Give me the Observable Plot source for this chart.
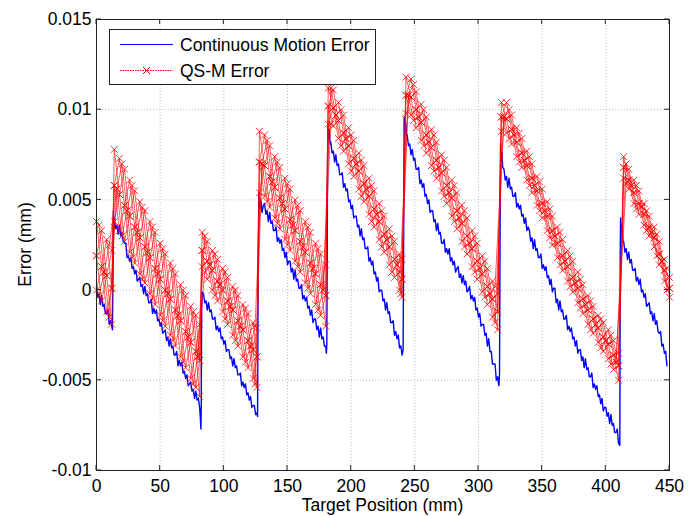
<!DOCTYPE html>
<html>
<head>
<meta charset="utf-8">
<script src="https://cdn.jsdelivr.net/npm/d3@7"></script>
<script src="https://cdn.jsdelivr.net/npm/@observablehq/plot@0.6"></script>
<style>
  html, body { margin: 0; padding: 0; background: #fff; }
  #chart svg { display: block; }
</style>
</head>
<body>
<div id="chart"></div>
<script>
// ---------- data ----------
const xTicks = [0, 50, 100, 150, 200, 250, 300, 350, 400, 450];
const yTicks = [-0.01, -0.005, 0, 0.005, 0.01, 0.015];
const seriesNames = ["Continuous Motion Error", "QS-M Error"];
const axisTitles = ["Target Position (mm)", "Error (mm)"];

// Continuous motion error: [target position (mm), error (mm)]
const blueSeries = [
  [0,0.0002],[1,-0.0004],[2,-0.0002],[3,-0.0008],[4,-0.0003],[5,-0.0009],[6,-0.0008],[7,-0.0013],[8,-0.0013],[9,-0.0011],[10,-0.0019],[11,-0.0017],[12,-0.0020],[12.5,-0.0022],
  [13,0.0010],[13.3,0.0044],[13.7,0.0035],[14,0.0040],[15,0.0034],[16,0.0036],[17,0.0031],[18,0.0036],[19,0.0030],[20,0.0032],[21,0.0027],[22,0.0026],[23,0.0026],[24,0.0018],[25,0.0019],[26,0.0016],[27,0.0018],[28,0.0012],[29,0.0013],[30,0.0009],[31,0.0011],[32,0.0005],[33,0.0006],[34,0.0007],[35,0.0002],[36,0.0003],[37,-0.0002],[38,0.0002],[39,-0.0003],[40,-0.0002],[41,-0.0007],[42,-0.0007],[43,-0.0005],[44,-0.0013],[45,-0.0010],[46,-0.0013],[47,-0.0011],[48,-0.0017],[49,-0.0016],[50,-0.0020],[51,-0.0018],[52,-0.0024],[53,-0.0023],[54,-0.0022],[55,-0.0028],[56,-0.0026],[57,-0.0031],[58,-0.0027],[59,-0.0032],[60,-0.0031],[61,-0.0036],[62,-0.0036],[63,-0.0034],[64,-0.0042],[65,-0.0039],[66,-0.0042],[67,-0.0040],[68,-0.0046],[69,-0.0045],[70,-0.0049],[71,-0.0047],[72,-0.0053],[73,-0.0052],[74,-0.0051],[75,-0.0056],[76,-0.0055],[77,-0.0060],[78,-0.0056],[79,-0.0061],[80,-0.0060],[81,-0.0065],[81.5,-0.0070],[82,-0.0077],[82.3,-0.0062],
  [82.6,-0.0010],[83,-0.0001],[84,-0.0002],[85,-0.0007],[86,-0.0006],[87,-0.0011],[88,-0.0007],[89,-0.0012],[90,-0.0011],[91,-0.0016],[92,-0.0016],[93,-0.0015],[94,-0.0022],[95,-0.0020],[96,-0.0023],[97,-0.0021],[98,-0.0027],[99,-0.0026],[100,-0.0030],[101,-0.0028],[102,-0.0034],[103,-0.0033],[104,-0.0033],[105,-0.0038],[106,-0.0037],[107,-0.0042],[108,-0.0038],[109,-0.0043],[110,-0.0042],[111,-0.0047],[112,-0.0047],[113,-0.0046],[114,-0.0053],[115,-0.0051],[116,-0.0054],[117,-0.0052],[118,-0.0058],[119,-0.0057],[120,-0.0061],[121,-0.0059],[122,-0.0065],[123,-0.0064],[124,-0.0064],[125,-0.0069],[126,-0.0068],[126.5,-0.0070],
  [127,0.0020],[127.5,0.0054],[128,0.0045],[129,0.0050],[130,0.0043],[131,0.0047],[132,0.0048],[133,0.0042],[134,0.0044],[135,0.0038],[136,0.0043],[137,0.0037],[138,0.0038],[139,0.0033],[140,0.0033],[141,0.0035],[142,0.0027],[143,0.0029],[144,0.0026],[145,0.0028],[146,0.0022],[147,0.0023],[148,0.0018],[149,0.0021],[150,0.0014],[151,0.0016],[152,0.0016],[153,0.0010],[154,0.0012],[155,0.0006],[156,0.0011],[157,0.0005],[158,0.0006],[159,0.0001],[160,0.0001],[161,0.0003],[162,-0.0005],[163,-0.0003],[164,-0.0006],[165,-0.0004],[166,-0.0010],[167,-0.0009],[168,-0.0014],[169,-0.0011],[170,-0.0018],[171,-0.0016],[172,-0.0016],[173,-0.0022],[174,-0.0020],[175,-0.0026],[176,-0.0021],[177,-0.0027],[178,-0.0026],[179,-0.0031],[180,-0.0031],[180.5,-0.0035],[180.9,-0.0030],
  [181.3,0.0040],[181.6,0.0091],[182.2,0.0084],[182.8,0.0089],[183.4,0.0081],[184,0.0082],[185,0.0076],[186,0.0077],[187,0.0071],[188,0.0075],[189,0.0069],[190,0.0070],[191,0.0064],[192,0.0064],[193,0.0065],[194,0.0057],[195,0.0059],[196,0.0055],[197,0.0056],[198,0.0049],[199,0.0050],[200,0.0045],[201,0.0047],[202,0.0040],[203,0.0041],[204,0.0041],[205,0.0035],[206,0.0036],[207,0.0030],[208,0.0034],[209,0.0028],[210,0.0029],[211,0.0023],[212,0.0023],[213,0.0024],[214,0.0016],[215,0.0018],[216,0.0014],[217,0.0016],[218,0.0009],[219,0.0010],[220,0.0005],[221,0.0007],[222,-0.0001],[223,0.0000],[224,0.0000],[225,-0.0006],[226,-0.0005],[227,-0.0011],[228,-0.0007],[229,-0.0013],[230,-0.0012],[231,-0.0018],[232,-0.0018],[233,-0.0017],[234,-0.0025],[235,-0.0023],[236,-0.0027],[237,-0.0025],[238,-0.0032],[239,-0.0031],[240,-0.0036],[240.8,-0.0033],
  [241.3,0.0040],[241.6,0.0096],[242.2,0.0088],[242.8,0.0093],[243.4,0.0086],[244,0.0086],[245,0.0080],[246,0.0081],[247,0.0075],[248,0.0078],[249,0.0072],[250,0.0073],[251,0.0067],[252,0.0067],[253,0.0068],[254,0.0059],[255,0.0061],[256,0.0057],[257,0.0059],[258,0.0052],[259,0.0053],[260,0.0048],[261,0.0050],[262,0.0043],[263,0.0044],[264,0.0044],[265,0.0038],[266,0.0039],[267,0.0033],[268,0.0037],[269,0.0031],[270,0.0032],[271,0.0026],[272,0.0026],[273,0.0028],[274,0.0021],[275,0.0023],[276,0.0020],[277,0.0023],[278,0.0016],[279,0.0018],[280,0.0014],[281,0.0016],[282,0.0010],[283,0.0012],[284,0.0013],[285,0.0007],[286,0.0009],[287,0.0004],[288,0.0008],[289,0.0003],[290,0.0005],[291,-0.0001],[292,0.0000],[293,0.0002],[294,-0.0005],[295,-0.0003],[296,-0.0006],[297,-0.0004],[298,-0.0011],[299,-0.0010],[300,-0.0015],[301,-0.0013],[302,-0.0020],[303,-0.0019],[304,-0.0019],[305,-0.0025],[306,-0.0024],[307,-0.0031],[308,-0.0027],[309,-0.0034],[310,-0.0034],[311,-0.0041],[312,-0.0041],[313,-0.0041],[314,-0.0050],[315,-0.0048],[316,-0.0053],[316.5,-0.0047],
  [317,0.0040],[317.3,0.0081],[317.8,0.0072],[318.4,0.0076],[319,0.0068],[320,0.0067],[321,0.0061],[322,0.0063],[323,0.0057],[324,0.0062],[325,0.0056],[326,0.0057],[327,0.0052],[328,0.0052],[329,0.0054],[330,0.0046],[331,0.0048],[332,0.0045],[333,0.0047],[334,0.0041],[335,0.0042],[336,0.0037],[337,0.0040],[338,0.0033],[339,0.0035],[340,0.0033],[341,0.0027],[342,0.0029],[343,0.0023],[344,0.0028],[345,0.0022],[346,0.0023],[347,0.0018],[348,0.0018],[349,0.0020],[350,0.0012],[351,0.0014],[352,0.0011],[353,0.0013],[354,0.0007],[355,0.0008],[356,0.0003],[357,0.0006],[358,-0.0001],[359,0.0001],[360,0.0001],[361,-0.0007],[362,-0.0005],[363,-0.0011],[364,-0.0006],[365,-0.0012],[366,-0.0011],[367,-0.0016],[368,-0.0016],[369,-0.0014],[370,-0.0022],[371,-0.0020],[372,-0.0023],[373,-0.0021],[374,-0.0027],[375,-0.0026],[376,-0.0031],[377,-0.0028],[378,-0.0035],[379,-0.0033],[380,-0.0033],[381,-0.0039],[382,-0.0037],[383,-0.0043],[384,-0.0038],[385,-0.0044],[386,-0.0043],[387,-0.0048],[388,-0.0048],[389,-0.0046],[390,-0.0054],[391,-0.0052],[392,-0.0055],[393,-0.0053],[394,-0.0059],[395,-0.0058],[396,-0.0063],[397,-0.0060],[398,-0.0067],[399,-0.0065],[400,-0.0065],[401,-0.0070],[402,-0.0068],[403,-0.0074],[404,-0.0069],[405,-0.0075],[406,-0.0074],[407,-0.0079],[408,-0.0079],[409,-0.0077],[410,-0.0085],[411,-0.0086],
  [411.3,0.0020],[411.6,0.0040],[412.2,0.0030],[412.8,0.0036],[413.4,0.0027],[414,0.0027],[415,0.0021],[416,0.0023],[417,0.0017],[418,0.0021],[419,0.0015],[420,0.0017],[421,0.0011],[422,0.0011],[423,0.0012],[424,0.0005],[425,0.0007],[426,0.0003],[427,0.0006],[428,-0.0001],[429,0.0000],[430,-0.0004],[431,-0.0002],[432,-0.0009],[433,-0.0008],[434,-0.0007],[435,-0.0013],[436,-0.0012],[437,-0.0017],[438,-0.0013],[439,-0.0019],[440,-0.0017],[441,-0.0023],[442,-0.0024],[443,-0.0023],[444,-0.0031],[445,-0.0030],[446,-0.0035],[447,-0.0034],[448,-0.0042]
];

// QS-M error: marker positions (mm) and the error of each measurement run (mm)
const redX = [0,4,8,12,
  14,18,22,26,30,34,38,42,46,50,54,58,62,66,70,74,78,81,
  83,87,91,95,99,103,107,111,115,119,123,126,
  128,132,136,140,144,148,152,156,160,164,168,172,176,180,
  182,186,190,194,198,202,206,210,214,218,222,226,230,234,238,240,
  243,247,251,255,259,263,267,271,275,279,283,287,291,295,299,303,307,311,315,
  318,322,326,330,334,338,342,346,350,354,358,362,366,370,374,378,382,386,390,394,398,402,406,410,
  414,418,422,426,430,434,438,442,446,450];
const redRunA = [0.0038,0.0013,-0.0012,0.0001,
  0.0078,0.0053,0.0027,0.0041,0.0055,0.0029,0.0004,0.0018,0.0032,0.0006,-0.0020,-0.0005,0.0009,-0.0017,-0.0043,-0.0029,-0.0014,-0.0039,
  0.0013,0.0016,0.0022,0.0005,-0.0012,-0.0006,0.0002,-0.0017,-0.0037,-0.0028,-0.0018,-0.0037,
  0.0054,0.0069,0.0080,0.0057,0.0034,0.0045,0.0056,0.0033,0.0010,0.0021,0.0032,0.0009,-0.0014,-0.0003,
  0.0112,0.0101,0.0084,0.0087,0.0090,0.0073,0.0056,0.0059,0.0062,0.0045,0.0028,0.0031,0.0034,0.0017,0.0000,0.0006,
  0.0118,0.0107,0.0090,0.0093,0.0096,0.0079,0.0062,0.0065,0.0068,0.0051,0.0034,0.0037,0.0040,0.0023,0.0006,0.0009,0.0012,-0.0005,-0.0022,
  0.0096,0.0104,0.0089,0.0074,0.0076,0.0077,0.0062,0.0047,0.0048,0.0049,0.0033,0.0018,0.0019,0.0022,0.0007,-0.0007,-0.0005,-0.0003,-0.0016,-0.0029,-0.0026,-0.0022,-0.0036,-0.0050,
  0.0068,0.0067,0.0054,0.0042,0.0042,0.0041,0.0029,0.0014,0.0011,0.0007];
const redRunB = [0.0000,0.0013,0.0028,0.0001,
  0.0038,0.0053,0.0067,0.0041,0.0015,0.0029,0.0044,0.0018,-0.0008,0.0006,0.0020,-0.0005,-0.0031,-0.0017,-0.0003,-0.0029,-0.0054,-0.0039,
  0.0032,0.0016,0.0000,0.0005,0.0012,-0.0006,-0.0025,-0.0017,-0.0008,-0.0028,-0.0049,-0.0037,
  0.0088,0.0069,0.0046,0.0057,0.0068,0.0045,0.0022,0.0033,0.0044,0.0021,-0.0002,0.0009,0.0020,-0.0003,
  0.0092,0.0101,0.0104,0.0087,0.0070,0.0073,0.0076,0.0059,0.0042,0.0045,0.0048,0.0031,0.0014,0.0017,0.0020,0.0006,
  0.0098,0.0107,0.0110,0.0093,0.0076,0.0079,0.0082,0.0065,0.0048,0.0051,0.0054,0.0037,0.0020,0.0023,0.0026,0.0009,-0.0008,-0.0005,-0.0002,
  0.0096,0.0087,0.0089,0.0090,0.0076,0.0061,0.0062,0.0063,0.0048,0.0033,0.0033,0.0035,0.0019,0.0005,0.0007,0.0010,-0.0005,-0.0019,-0.0016,-0.0014,-0.0026,-0.0038,-0.0036,-0.0035,
  0.0068,0.0056,0.0054,0.0055,0.0042,0.0030,0.0029,0.0027,0.0011,-0.0004];
const redRunC = [0.0019,0.0033,0.0008,-0.0019,
  0.0058,0.0073,0.0047,0.0021,0.0035,0.0049,0.0024,-0.0002,0.0012,0.0026,0.0000,-0.0025,-0.0011,0.0003,-0.0023,-0.0049,-0.0034,-0.0019,
  0.0022,0.0006,0.0011,0.0017,0.0000,-0.0019,-0.0011,-0.0003,-0.0022,-0.0043,-0.0033,-0.0021,
  0.0071,0.0052,0.0063,0.0074,0.0051,0.0028,0.0039,0.0050,0.0027,0.0004,0.0015,0.0026,0.0003,-0.0020,
  0.0102,0.0111,0.0094,0.0077,0.0080,0.0083,0.0066,0.0049,0.0052,0.0055,0.0038,0.0021,0.0024,0.0027,0.0010,-0.0004,
  0.0108,0.0117,0.0100,0.0083,0.0086,0.0089,0.0072,0.0055,0.0058,0.0061,0.0044,0.0027,0.0030,0.0033,0.0016,-0.0001,0.0002,0.0005,-0.0012,
  0.0088,0.0095,0.0097,0.0082,0.0068,0.0069,0.0070,0.0055,0.0040,0.0041,0.0041,0.0026,0.0011,0.0013,0.0016,0.0001,-0.0013,-0.0011,-0.0009,-0.0021,-0.0034,-0.0030,-0.0028,-0.0042,
  0.0062,0.0061,0.0061,0.0048,0.0036,0.0035,0.0035,0.0020,0.0005,0.0001];
const redRunD = [0.0019,-0.0006,0.0008,0.0022,
  0.0058,0.0033,0.0047,0.0061,0.0035,0.0009,0.0024,0.0038,0.0012,-0.0014,0.0000,0.0015,-0.0011,-0.0037,-0.0023,-0.0009,-0.0034,-0.0059,
  0.0022,0.0027,0.0011,-0.0006,0.0000,0.0007,-0.0011,-0.0031,-0.0022,-0.0013,-0.0033,-0.0054,
  0.0071,0.0086,0.0063,0.0040,0.0051,0.0062,0.0039,0.0016,0.0027,0.0038,0.0015,-0.0008,0.0003,0.0014,
  0.0102,0.0091,0.0094,0.0097,0.0080,0.0063,0.0066,0.0069,0.0052,0.0035,0.0038,0.0041,0.0024,0.0007,0.0010,0.0017,
  0.0108,0.0097,0.0100,0.0103,0.0086,0.0069,0.0072,0.0075,0.0058,0.0041,0.0044,0.0047,0.0030,0.0013,0.0016,0.0019,0.0002,-0.0015,-0.0012,
  0.0104,0.0095,0.0081,0.0082,0.0084,0.0069,0.0054,0.0055,0.0056,0.0041,0.0025,0.0026,0.0028,0.0013,-0.0001,0.0001,0.0003,-0.0011,-0.0024,-0.0021,-0.0018,-0.0030,-0.0044,-0.0042,
  0.0074,0.0061,0.0048,0.0048,0.0048,0.0035,0.0024,0.0020,0.0017,0.0001];

// second set of runs, measured at the intermediate positions
const redX2 = [2,6,10,
  16,20,24,28,32,36,40,44,48,52,56,60,64,68,72,76,79.5,
  85,89,93,97,101,105,109,113,117,121,124.5,
  130,134,138,142,146,150,154,158,162,166,170,174,178,
  184,188,192,196,200,204,208,212,216,220,224,228,232,236,239,
  245,249,253,257,261,265,269,273,277,281,285,289,293,297,301,305,309,313,
  320,324,328,332,336,340,344,348,352,356,360,364,368,372,376,380,384,388,392,396,400,404,408,
  416,420,424,428,432,436,440,444,448];
const redRunE = [0.0036,0.0010,-0.0015,
  0.0056,0.0070,0.0044,0.0018,0.0032,0.0046,0.0021,-0.0005,0.0009,0.0023,-0.0002,-0.0028,-0.0014,0.0000,-0.0026,-0.0052,-0.0037,
  0.0030,0.0014,-0.0003,0.0003,0.0010,-0.0009,-0.0028,-0.0020,-0.0010,-0.0031,-0.0052,
  0.0070,0.0083,0.0060,0.0037,0.0048,0.0059,0.0036,0.0013,0.0024,0.0035,0.0012,-0.0011,0.0000,
  0.0112,0.0097,0.0080,0.0084,0.0086,0.0070,0.0052,0.0056,0.0058,0.0042,0.0024,0.0028,0.0030,0.0014,-0.0002,
  0.0108,0.0114,0.0096,0.0080,0.0082,0.0086,0.0068,0.0052,0.0054,0.0058,0.0040,0.0024,0.0026,0.0030,0.0012,-0.0004,-0.0002,0.0002,
  0.0096,0.0084,0.0086,0.0087,0.0072,0.0058,0.0058,0.0060,0.0044,0.0029,0.0030,0.0032,0.0016,0.0002,0.0004,0.0006,-0.0008,-0.0022,-0.0019,-0.0016,-0.0028,-0.0041,-0.0040,
  0.0070,0.0058,0.0045,0.0046,0.0044,0.0032,0.0019,0.0016,0.0012];
const redRunF = [-0.0003,0.0010,0.0025,
  0.0056,0.0030,0.0044,0.0058,0.0032,0.0006,0.0021,0.0035,0.0009,-0.0017,-0.0002,0.0012,-0.0014,-0.0040,-0.0026,-0.0012,-0.0037,
  0.0010,0.0014,0.0020,0.0003,-0.0016,-0.0009,0.0000,-0.0020,-0.0040,-0.0031,-0.0020,
  0.0070,0.0049,0.0060,0.0071,0.0048,0.0025,0.0036,0.0047,0.0024,0.0001,0.0012,0.0023,0.0000,
  0.0092,0.0097,0.0100,0.0084,0.0066,0.0070,0.0072,0.0056,0.0038,0.0042,0.0044,0.0028,0.0010,0.0014,0.0018,
  0.0108,0.0094,0.0096,0.0100,0.0082,0.0066,0.0068,0.0072,0.0054,0.0038,0.0040,0.0044,0.0026,0.0010,0.0012,0.0016,-0.0002,-0.0018,
  0.0096,0.0100,0.0086,0.0071,0.0072,0.0074,0.0058,0.0044,0.0044,0.0045,0.0030,0.0014,0.0016,0.0019,0.0004,-0.0010,-0.0008,-0.0006,-0.0019,-0.0032,-0.0028,-0.0025,-0.0040,
  0.0059,0.0058,0.0058,0.0046,0.0033,0.0032,0.0031,0.0016,0.0000];

// ---------- tables ----------
const blueData = blueSeries.map(([x, y]) => ({x, y}));
const runsOnGrid1 = [redRunA, redRunB, redRunC, redRunD];
const runsOnGrid2 = [redRunE, redRunF];
const redData = [
  ...runsOnGrid1.flatMap((ys, k) => ys.map((y, i) => ({x: redX[i], y, run: "g1-" + k}))),
  ...runsOnGrid2.flatMap((ys, k) => ys.map((y, i) => ({x: redX2[i], y, run: "g2-" + k})))
];

const BLUE = "#0000ff", RED = "#ff0000";
const FONT = "'Liberation Sans', Arial, Helvetica, sans-serif";
const FS = 17.5;

const plot = Plot.plot({
  width: 700,
  height: 516,
  marginLeft: 96,
  marginRight: 31,
  marginTop: 19,
  marginBottom: 46,
  style: {fontFamily: FONT, fontSize: FS + "px", color: "#000", background: "#fff", overflow: "visible"},
  x: {domain: [0, 450]},
  y: {domain: [-0.01, 0.015]},
  marks: [
    Plot.gridX(xTicks, {stroke: "#bdbdbd", strokeOpacity: 1, strokeWidth: 1, strokeDasharray: "1,2"}),
    Plot.gridY(yTicks, {stroke: "#bdbdbd", strokeOpacity: 1, strokeWidth: 1, strokeDasharray: "1,2"}),
    Plot.axisX(xTicks, {tickSize: 0, tickPadding: 9, label: null, fontSize: FS}),
    Plot.axisY(yTicks, {tickSize: 0, tickPadding: 5, label: null, fontSize: FS,
      tickFormat: d => String(Math.round(d * 10000) / 10000)}),
    Plot.line(blueData, {x: "x", y: "y", stroke: BLUE, strokeWidth: 1.4}),
    Plot.line(redData, {x: "x", y: "y", z: "run", stroke: RED, strokeWidth: 0.7, strokeDasharray: "1.5,1"}),
    Plot.dot(redData, {x: "x", y: "y", symbol: "times", r: 3.2, stroke: RED, strokeWidth: 0.8}),
    Plot.frame({stroke: "#222", strokeWidth: 1})
  ]
});

document.getElementById("chart").appendChild(plot);

// ---------- inward ticks, axis titles, legend ----------
const sx = plot.scale("x"), sy = plot.scale("y");
const svg = d3.select(plot);
const x0 = sx.apply(0), x1 = sx.apply(450);
const y0 = sy.apply(-0.01), y1 = sy.apply(0.015);
const tk = 5;
const tg = svg.append("g").attr("stroke", "#222").attr("stroke-width", 1);
xTicks.forEach(v => {
  const px = sx.apply(v);
  tg.append("line").attr("x1", px).attr("x2", px).attr("y1", y0).attr("y2", y0 - tk);
  tg.append("line").attr("x1", px).attr("x2", px).attr("y1", y1).attr("y2", y1 + tk);
});
yTicks.forEach(v => {
  const py = sy.apply(v);
  tg.append("line").attr("y1", py).attr("y2", py).attr("x1", x0).attr("x2", x0 + tk);
  tg.append("line").attr("y1", py).attr("y2", py).attr("x1", x1).attr("x2", x1 - tk);
});

svg.append("text")
  .attr("x", (x0 + x1) / 2).attr("y", 511)
  .attr("text-anchor", "middle")
  .attr("font-family", FONT).attr("font-size", FS).attr("fill", "#000")
  .text(axisTitles[0]);
svg.append("text")
  .attr("transform", `translate(31,${(y0 + y1) / 2}) rotate(-90)`)
  .attr("text-anchor", "middle")
  .attr("font-family", FONT).attr("font-size", FS).attr("fill", "#000")
  .text(axisTitles[1]);

// legend
const lg = svg.append("g");
lg.append("rect").attr("x", 109.5).attr("y", 29.5).attr("width", 266).attr("height", 55)
  .attr("fill", "#fff").attr("stroke", "#222").attr("stroke-width", 1);
lg.append("line").attr("x1", 120).attr("x2", 173).attr("y1", 44.5).attr("y2", 44.5)
  .attr("stroke", BLUE).attr("stroke-width", 1);
lg.append("line").attr("x1", 120).attr("x2", 173).attr("y1", 70.5).attr("y2", 70.5)
  .attr("stroke", RED).attr("stroke-width", 1).attr("stroke-dasharray", "1.5,1");
lg.append("path").attr("d", "M143,67L150,74M143,74L150,67")
  .attr("stroke", RED).attr("stroke-width", 1).attr("fill", "none");
lg.append("text").attr("x", 180).attr("y", 50.5).attr("text-anchor", "start")
  .attr("font-family", FONT).attr("font-size", FS).attr("fill", "#000").text(seriesNames[0]);
lg.append("text").attr("x", 180).attr("y", 76.5).attr("text-anchor", "start")
  .attr("font-family", FONT).attr("font-size", FS).attr("fill", "#000").text(seriesNames[1]);
</script>
</body>
</html>
